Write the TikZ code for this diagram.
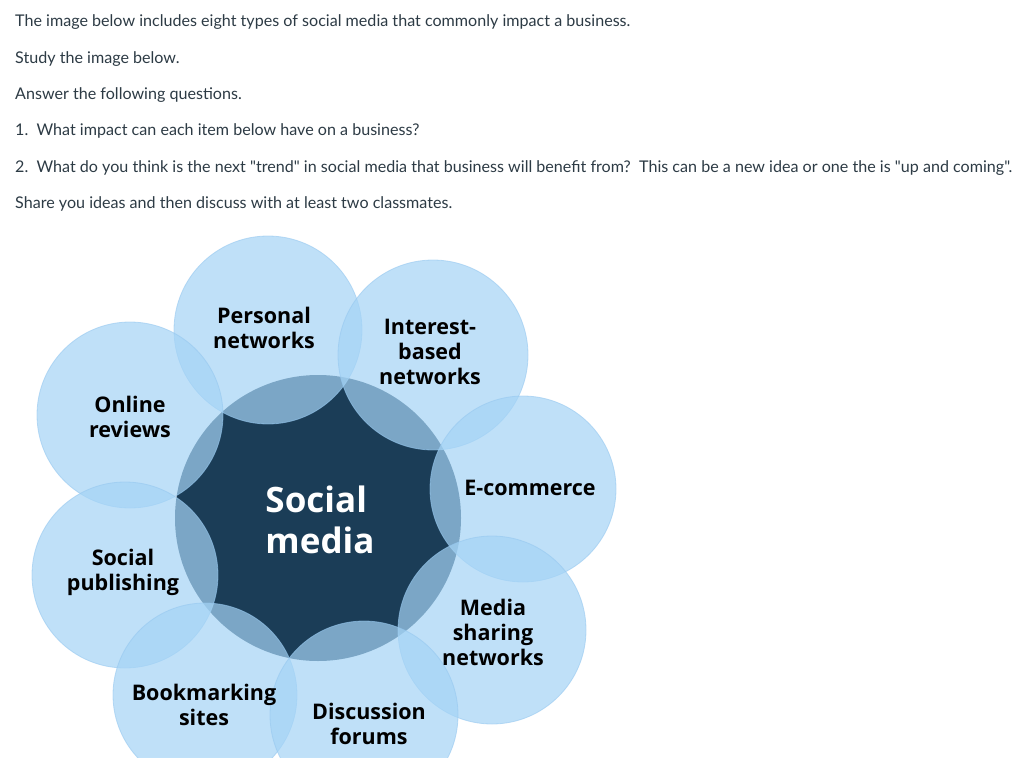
\documentclass[tikz,border=0pt]{standalone}
\usepackage{fontspec}
\setmainfont{Lato}[Ligatures=TeXOff]
\newfontfamily\lblfont{Open Sans}[BoldFont={* Bold}]
\definecolor{navy}{RGB}{27,61,87}
\definecolor{bub}{RGB}{165,212,246}
\definecolor{bubline}{RGB}{150,200,240}
\definecolor{txt}{RGB}{45,59,69}
\begin{document}
\begin{tikzpicture}[x=1pt,y=-1pt,
  bubble/.style={circle,fill=bub,fill opacity=0.7,draw=bubline,draw opacity=0.6,line width=0.8pt,minimum size=#1,inner sep=0pt},
  lbl/.style={font=\lblfont\bfseries\fontsize{21.5}{25}\selectfont,align=center,text=black},
  para/.style={anchor=west,font=\fontsize{16.1}{19}\selectfont,text=txt,inner sep=0pt}]
\useasboundingbox (0,0) rectangle (1024,757);
\clip (0,0) rectangle (1024,757);
\fill[white] (0,0) rectangle (1024,757);
\node[para] (t1) at (15,22) {The image below includes eight types of social media that commonly impact a business.};
\node[para] (t2) at (15,59) {Study the image below.};
\node[para] (t3) at (15,95) {Answer the following questions.};
\node[para] (t4) at (15,131) {1.\ \ What impact can each item below have on a business?};
\node[para] (t5) at (15,168) {2.\ \ What do you think is the next "trend" in social media that business will benefit from?\ \ This can be a new idea or one the is "up and coming".};
\node[para] (t6) at (15,204) {Share you ideas and then discuss with at least two classmates.};
\node[circle,fill=navy,minimum size=286pt,inner sep=0pt] (c) at (318,518) {};
\node[bubble=188pt] (p) at (268,330) {};
\node[bubble=190pt] (i) at (433,355) {};
\node[bubble=186pt] (o) at (130,415) {};
\node[bubble=186pt] (e) at (523,489) {};
\node[bubble=186pt] (s) at (125,575) {};
\node[bubble=188pt] (m) at (492,630) {};
\node[bubble=184pt] (b) at (205,695) {};
\node[bubble=188pt] (d) at (364,715) {};
\node[lbl] at (264,328) {Personal\\networks};
\node[lbl] at (430,352) {Interest-\\based\\networks};
\node[lbl] at (130,417) {Online\\reviews};
\node[lbl] at (530,488) {E-commerce};
\node[lbl] at (123,572) {Social\\publishing};
\node[lbl] at (493,632) {Media\\sharing\\networks};
\node[lbl] at (204,705) {Bookmarking\\sites};
\node[lbl] at (369,724) {Discussion\\forums};
\node[font=\lblfont\bfseries\fontsize{35}{41}\selectfont,align=left,text=white] at (320,520) {Social\\media};
\end{tikzpicture}
\end{document}
